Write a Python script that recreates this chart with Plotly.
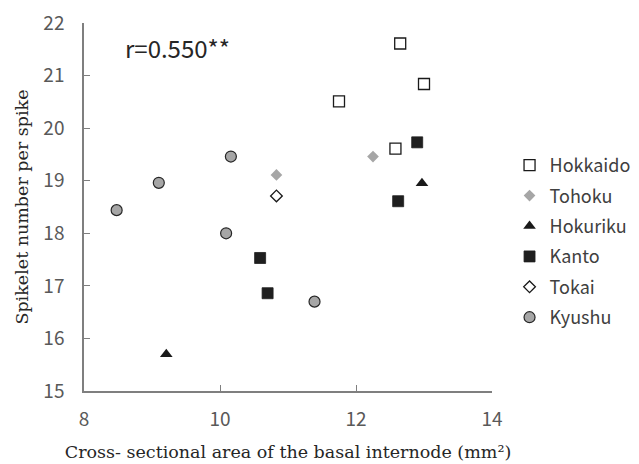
import plotly.graph_objects as go

# Data
hokkaido_x = [12.65, 13.00, 11.75, 12.58]
hokkaido_y = [21.61, 20.84, 20.51, 19.61]
tohoku_x = [12.25, 10.83]
tohoku_y = [19.46, 19.11]
hokuriku_x = [9.21, 12.97]
hokuriku_y = [15.70, 18.95]
kanto_x = [10.59, 10.70, 12.90, 12.62]
kanto_y = [17.53, 16.86, 19.73, 18.61]
tokai_x = [10.83]
tokai_y = [18.71]
kyushu_x = [8.48, 9.10, 10.16, 10.09, 11.39]
kyushu_y = [18.44, 18.96, 19.46, 18.00, 16.70]

x_ticks = [8, 10, 12, 14]
y_ticks = [15, 16, 17, 18, 19, 20, 21, 22]

series = [
    ("Hokkaido", hokkaido_x, hokkaido_y, dict(symbol="square", size=11, color="white", line=dict(color="#1a1a1a", width=1.3))),
    ("Tohoku", tohoku_x, tohoku_y, dict(symbol="diamond", size=9, color="#a6a6a6", line=dict(color="#a6a6a6", width=0))),
    ("Hokuriku", hokuriku_x, hokuriku_y, dict(symbol="triangle-up", size=11, color="#1a1a1a", line=dict(width=0))),
    ("Kanto", kanto_x, kanto_y, dict(symbol="square", size=11, color="#1f1f1f", line=dict(color="#1f1f1f", width=0.8))),
    ("Tokai", tokai_x, tokai_y, dict(symbol="diamond", size=9, color="white", line=dict(color="#1a1a1a", width=1.3))),
    ("Kyushu", kyushu_x, kyushu_y, dict(symbol="circle", size=11, color="#a6a6a6", line=dict(color="#262626", width=1.2))),
]

fig = go.Figure()
for i, (name, xs, ys, mk) in enumerate(series):
    fig.add_trace(go.Scatter(x=xs, y=ys, mode="markers", name=name, marker=mk,
                             legendgroup=name, cliponaxis=False))

sans = "Noto Sans CJK JP, Noto Sans, sans-serif"
tick_font = dict(family=sans, size=19, color="#595959")
title_font = dict(family="DejaVu Serif, Liberation Serif, serif", size=17.5, color="#262626")

fig.update_layout(
    width=639, height=464,
    margin=dict(l=84, r=147, t=23, b=73, autoexpand=False),
    paper_bgcolor="white", plot_bgcolor="white",
    showlegend=True,
    legend=dict(x=1.043, y=0.663, xanchor="left", yanchor="top",
                font=dict(family=sans, size=18, color="#404040"),
                traceorder="grouped", tracegroupgap=4, itemwidth=30,
                bgcolor="rgba(0,0,0,0)"),
    xaxis=dict(range=[8, 14], tickvals=x_ticks, ticks="inside", ticklen=6, tickwidth=1.3,
               tickcolor="#7f7f7f", showline=True, linecolor="#7f7f7f", linewidth=1.5,
               showgrid=False, zeroline=False, tickfont=tick_font, ticklabelstandoff=10,
               automargin=False, ticklabeloverflow="allow",
               title=dict(text="Cross- sectional area of the basal internode (mm²)", font=title_font, standoff=16)),
    yaxis=dict(range=[15, 22], tickvals=y_ticks, ticks="inside", ticklen=6, tickwidth=1.3,
               tickcolor="#7f7f7f", showline=True, linecolor="#7f7f7f", linewidth=1.5,
               showgrid=False, zeroline=False, tickfont=tick_font, ticklabelstandoff=14,
               automargin=False, ticklabeloverflow="allow",
               title=dict(text="Spikelet number per spike", font=title_font, standoff=10)),
    annotations=[dict(x=8.57, y=21.54, xref="x", yref="y", text="r=0.550**", showarrow=False,
                      xanchor="left", yanchor="middle",
                      font=dict(family=sans, size=24, color="#262626"))],
)

fig.write_html("out.html", config={"displayModeBar": False},
               post_script="document.body.style.margin='0';document.body.style.overflow='hidden';")
